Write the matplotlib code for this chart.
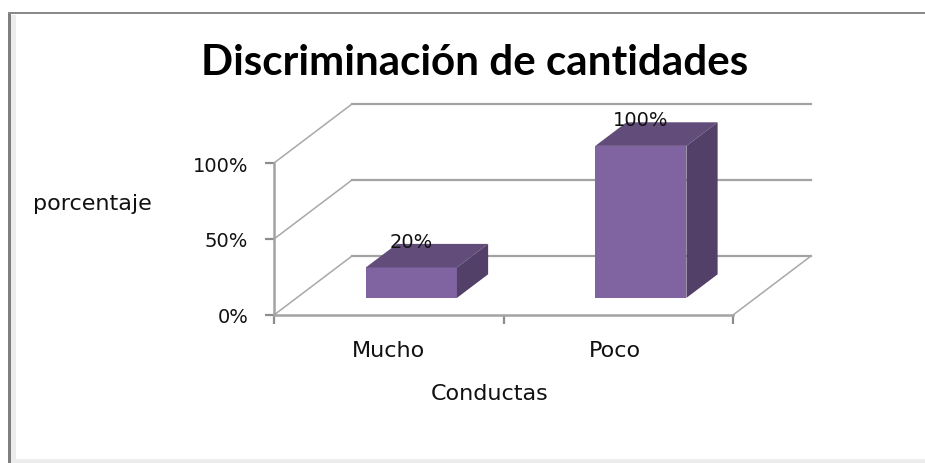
import matplotlib
matplotlib.use('Agg')
import matplotlib.pyplot as plt
from matplotlib.patches import Polygon, Rectangle

# datos
categorias = ['Mucho', 'Poco']
valores = [20, 100]
etiquetas = ['20%', '100%']
marcas_y = [0, 50, 100]
etiquetas_y = ['0%', '50%', '100%']

W, H = 925, 464
plt.rcParams['font.family'] = ['DejaVu Sans']
fig = plt.figure(figsize=(W / 100, H / 100), dpi=100, facecolor='white')

# ejes en la posicion del plano frontal
x0, x1, y0, y1 = 274, 733, 316, 164
ax = fig.add_axes([x0 / W, 1 - y0 / H, (x1 - x0) / W, (y0 - y1) / H])
ax.set_xlim(-0.5, 1.5)
ax.set_ylim(0, 100)
ax.patch.set_visible(False)

# profundidad del grafico 3D en unidades de datos
DX = 78 / ((x1 - x0) / 2)
DY = 59 / (y0 - y1) * 100
ANCHO = 0.397
D_FRENTE = 0.29
D_FONDO = 0.69


def p(x, y, d):
    return (x + d * DX, y + d * DY)


# paredes y suelo
gris = '#a3a3a3'
for v in marcas_y:
    ax.plot([-0.5, -0.5 + DX], [v, v + DY], color='#a8a8a8', lw=1.1, clip_on=False, zorder=1)
    ax.plot([-0.5 + DX, 1.5 + DX], [v + DY, v + DY], color=gris, lw=1.6, clip_on=False, zorder=1)
ax.plot([1.5, 1.5 + DX], [0, DY], color='#a8a8a8', lw=1.1, clip_on=False, zorder=1)

# barras
for i, v in enumerate(valores):
    iz = i - ANCHO / 2
    de = iz + ANCHO
    base = p(iz, 0, D_FRENTE)
    ax.bar(base[0], v, width=ANCHO, bottom=base[1], align='edge', color='#8064a2',
           lw=0, clip_on=False, zorder=3)
    ax.add_patch(Polygon([p(iz, v, D_FRENTE), p(de, v, D_FRENTE), p(de, v, D_FONDO), p(iz, v, D_FONDO)],
                         closed=True, color='#624c7a', lw=0, clip_on=False, zorder=3))
    ax.add_patch(Polygon([p(de, 0, D_FRENTE), p(de, v, D_FRENTE), p(de, v, D_FONDO), p(de, 0, D_FONDO)],
                         closed=True, color='#534068', lw=0, clip_on=False, zorder=3))
    # etiqueta de valor
    ax.annotate(etiquetas[i], p(i, v, D_FRENTE), xytext=(0, 26), textcoords='offset pixels',
                ha='center', va='center', fontsize=14, color='#111111', zorder=5,
                annotation_clip=False)

ax.set_xticks([-0.5, 0.5, 1.5])
ax.set_xticklabels([])
ax.set_yticks(marcas_y)
ax.set_yticklabels(etiquetas_y, fontsize=14, color='#111111')
ax.tick_params(axis='y', length=6.5, width=1.6, color='#8c8c8c', pad=12)
ax.tick_params(axis='x', length=6.5, width=1.6, color='#8c8c8c')
for s in ['top', 'right']:
    ax.spines[s].set_visible(False)
for s in ['left', 'bottom']:
    ax.spines[s].set_color('#a3a3a3')
    ax.spines[s].set_linewidth(1.8)

desp_x = [0, -3]
for i, c in enumerate(categorias):
    ax.annotate(c, (i, 0), xytext=(desp_x[i], -35), textcoords='offset pixels', ha='center',
                va='center', fontsize=16, color='#111111', annotation_clip=False)

fig.text(475 / W, 1 - 63 / H, 'Discriminación de cantidades', ha='center', va='center',
         fontsize=30.3, fontweight='bold', family='Lato', color='black')
fig.text(92 / W, 1 - 204 / H, 'porcentaje', ha='center', va='center', fontsize=16, color='#111111')
fig.text(490 / W, 1 - 394 / H, 'Conductas', ha='center', va='center', fontsize=16, color='#111111')

# marco de la imagen
fig.add_artist(Rectangle((8 / W, 0), 3 / W, 1 - 13 / H, transform=fig.transFigure, color='#7f7f7f', lw=0))
fig.add_artist(Rectangle((11 / W, 0), 5 / W, 1 - 16 / H, transform=fig.transFigure, color='#ececec', lw=0))
fig.add_artist(Rectangle((8 / W, 1 - 14.5 / H), 1 - 8 / W, 1.5 / H, transform=fig.transFigure, color='#8a8a8a', lw=0))
fig.add_artist(Rectangle((16 / W, 0), 1 - 16 / W, 4 / H, transform=fig.transFigure, color='#ececec', lw=0))

fig.savefig('out.png', dpi=100)
